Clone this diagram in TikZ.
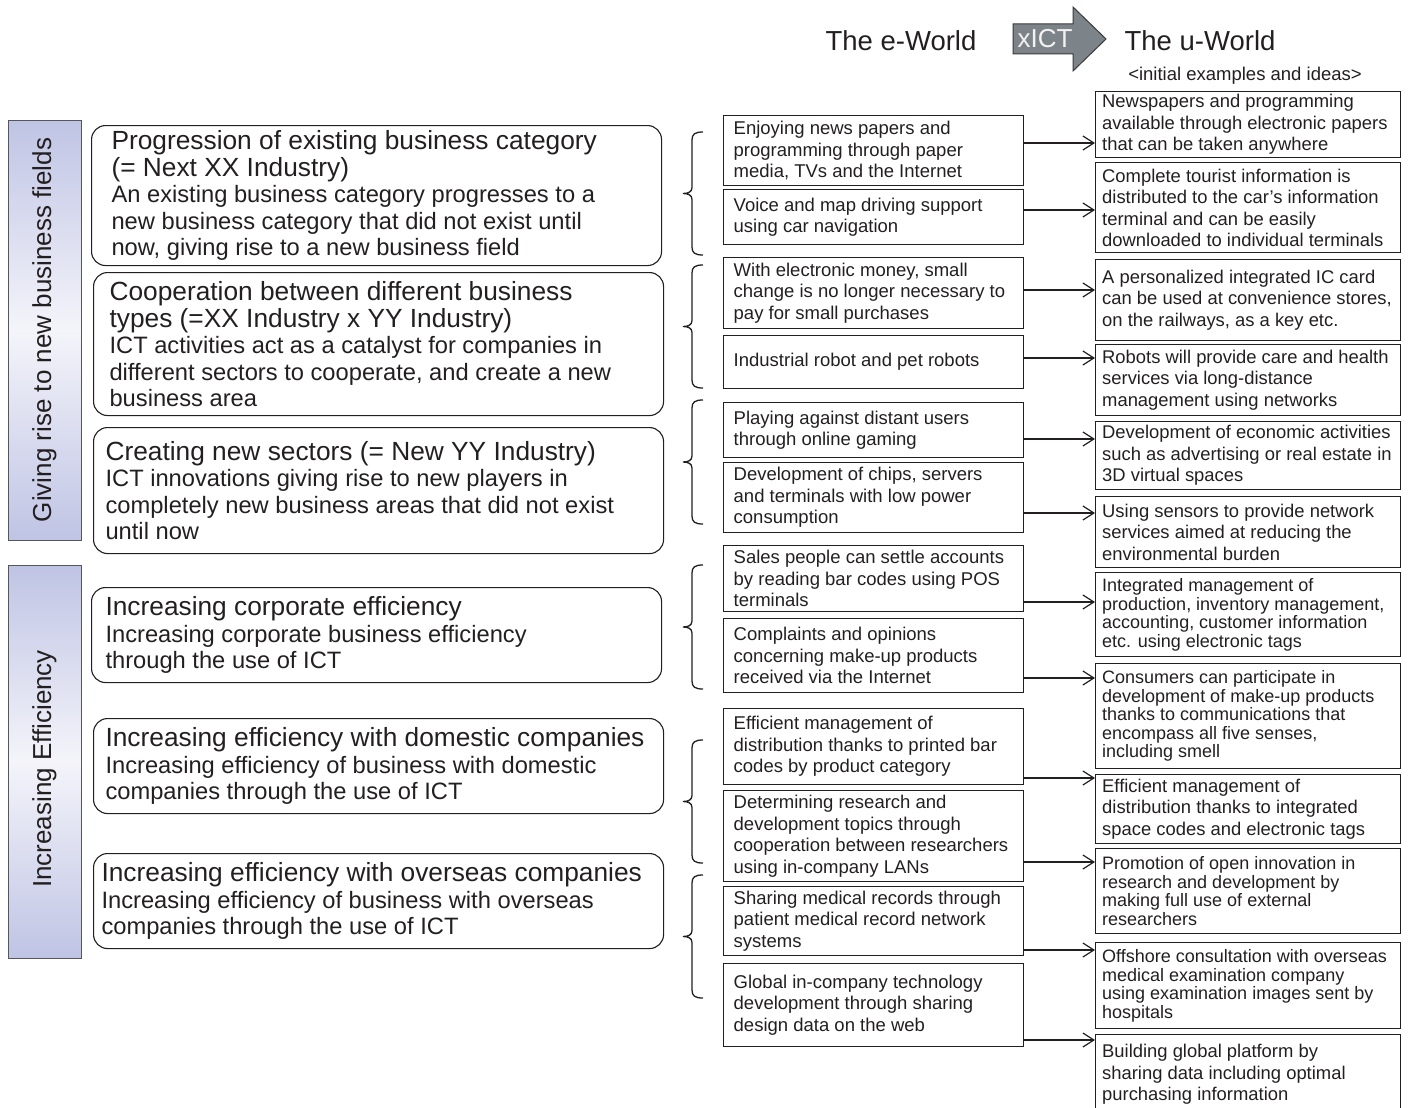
\documentclass[tikz,border=0pt]{standalone}
\usepackage{fontspec}
\usepackage{graphicx}
\setmainfont{Liberation Sans}
\usetikzlibrary{arrows.meta}

\definecolor{ink}{HTML}{231F20}
\definecolor{barlav}{HTML}{BFC4E4}
\definecolor{barlight}{HTML}{F4F4FA}
\definecolor{bargray}{HTML}{55565A}
\definecolor{arrowgray}{HTML}{7D8489}
\definecolor{arrowedge}{HTML}{3A3A3C}
\definecolor{arrowtext}{HTML}{F2F2F2}

\newcommand{\catheadfont}{\fontsize{26.3}{27}\selectfont}
\newcommand{\catbodyfont}{\fontsize{23.7}{26.5}\selectfont}

\begin{document}
\begin{tikzpicture}[x=1pt, y=-1pt,
  every node/.style={text=ink, execute at begin node={\spaceskip=0pt\xspaceskip=0pt}},
  catbar/.style={draw=bargray, line width=1pt, top color=barlav, bottom color=barlav, middle color=barlight, minimum width=73pt, font=\fontsize{26}{28}\selectfont},
  catbox/.style={draw=ink, line width=1.1pt, rounded corners=14pt, anchor=north west, minimum width=570pt, inner ysep=2pt, align=left},
  ebox/.style={draw=ink, line width=1.4pt, anchor=north west, minimum width=300pt, text width=280pt, inner xsep=10pt, inner ysep=2pt, align=left, font=\fontsize{18.5}{21.5}\selectfont},
  ubox/.style={draw=ink, line width=1.4pt, anchor=north west, minimum width=305pt, text width=292pt, inner xsep=6.5pt, inner ysep=2pt, align=left, font=\fontsize{18.4}{21.5}\selectfont},
  tight/.style={font=\fontsize{18}{18.5}\selectfont},
  ictarrow/.style={draw=arrowedge, fill=arrowgray, line width=1pt},
  feed/.style={draw=ink, line width=1.2pt, -{Straight Barb[length=11pt,width=14pt]}},
  bracepen/.style={draw=ink, line width=1.3pt}
]
\useasboundingbox (0,0) rectangle (1409,1108);

% Brace: top and bottom y, tip in the middle
\def\groupbrace#1#2{%
  \draw[bracepen] (703,#1) .. controls (695,#1) and (692,{#1+2}) .. (692,{#1+8})
    -- (692,{(#1+#2)/2-6}) .. controls (692,{(#1+#2)/2-1.5}) and (688,{(#1+#2)/2}) .. (683,{(#1+#2)/2})
    .. controls (688,{(#1+#2)/2}) and (692,{(#1+#2)/2+1.5}) .. (692,{(#1+#2)/2+6})
    -- (692,{#2-8}) .. controls (692,{#2-2}) and (695,#2) .. (703,#2);}

% Header
\node[font=\fontsize{27.5}{30}\selectfont] (eworld) at (901,41) {The e-World};
\draw[ictarrow] (1013,24) -- (1073,24) -- (1073,7) -- (1106,39) -- (1073,71) -- (1073,54) -- (1013,54) -- cycle;
\node[text=arrowtext, inner sep=0pt, font=\fontsize{26}{28}\selectfont] (xict) at (1045,39) {xICT};
\node[font=\fontsize{27.5}{30}\selectfont] (uworld) at (1200,41) {The u-World};
\node[font=\fontsize{18.5}{21}\selectfont] (ideas) at (1245,76) {<initial examples and ideas>};

% Category bars
\node[catbar, minimum height=420pt] (newfields) at (44.5,330) {\rotatebox{90}{Giving rise to new business fields}};
\node[catbar, minimum height=393pt] (efficiency) at (44.5,761.5) {\rotatebox{90}{Increasing Efficiency\hspace*{15pt}}};

% Category boxes
\node[catbox, inner xsep=20pt, text width=530pt, minimum height=140pt] (catA) at (91,125) {{\catheadfont Progression of existing business category\\(= Next XX Industry)\par}{\catbodyfont An existing business category progresses to a\\new business category that did not exist until\\now, giving rise to a new business field\par}};
\node[catbox, inner xsep=16pt, text width=538pt, minimum height=143pt] (catB) at (93,272) {{\catheadfont Cooperation between different business\\types (=XX Industry x YY Industry)\par}{\catbodyfont ICT activities act as a catalyst for companies in\\different sectors to cooperate, and create a new\\business area\par}};
\node[catbox, inner xsep=12pt, text width=546pt, minimum height=126pt] (catC) at (93,427) {{\catheadfont Creating new sectors (= New YY Industry)\par}{\catbodyfont ICT innovations giving rise to new players in\\completely new business areas that did not exist\\until now\par}};
\node[catbox, inner xsep=14pt, text width=542pt, minimum height=95pt] (catD) at (91,587) {{\catheadfont Increasing corporate efficiency\par}{\catbodyfont Increasing corporate business efficiency\\through the use of ICT\par}};
\node[catbox, inner xsep=12pt, text width=546pt, minimum height=95pt] (catE) at (93,718) {{\catheadfont Increasing efficiency with domestic companies\par}{\catbodyfont Increasing efficiency of business with domestic\\companies through the use of ICT\par}};
\node[catbox, inner xsep=8pt, text width=554pt, minimum height=95pt] (catF) at (93,853) {{\catheadfont Increasing efficiency with overseas companies\par}{\catbodyfont Increasing efficiency of business with overseas\\companies through the use of ICT\par}};

% Braces
\groupbrace{132}{255}
\groupbrace{265}{388}
\groupbrace{400}{524}
\groupbrace{565}{689}
\groupbrace{740}{863}
\groupbrace{875}{998}

% The e-World examples
\node[ebox, minimum height=70pt] (m1) at (723,115) {Enjoying news papers and\\programming through paper\\media, TVs and the Internet};
\node[ebox, minimum height=55pt] (m2) at (723,189) {Voice and map driving support\\using car navigation};
\node[ebox, minimum height=71pt] (m3) at (723,257) {With electronic money, small\\change is no longer necessary to\\pay for small purchases};
\node[ebox, minimum height=53pt] (m4) at (723,335) {Industrial robot and pet robots};
\node[ebox, minimum height=55pt] (m5) at (723,402) {Playing against distant users\\through online gaming};
\node[ebox, minimum height=70pt] (m6) at (723,462) {Development of chips, servers\\and terminals with low power\\consumption};
\node[ebox, minimum height=66pt] (m7) at (723,545) {Sales people can settle accounts\\by reading bar codes using POS\\terminals};
\node[ebox, minimum height=74pt] (m8) at (723,618) {Complaints and opinions\\concerning make-up products\\received via the Internet};
\node[ebox, minimum height=76pt] (m9) at (723,708) {Efficient management of\\distribution thanks to printed bar\\codes by product category};
\node[ebox, minimum height=91pt] (m10) at (723,790) {Determining research and\\development topics through\\cooperation between researchers\\using in-company LANs};
\node[ebox, minimum height=69pt] (m11) at (723,886) {Sharing medical records through\\patient medical record network\\systems};
\node[ebox, minimum height=83pt] (m12) at (723,963) {Global in-company technology\\development through sharing\\design data on the web};

% The u-World examples
\node[ubox, minimum height=66pt] (r1) at (1095,91) {Newspapers and programming\\available through electronic papers\\that can be taken anywhere};
\node[ubox, minimum height=90pt] (r2) at (1095,162) {Complete tourist information is\\distributed to the car's information\\terminal and can be easily\\downloaded to individual terminals};
\node[ubox, minimum height=81pt] (r3) at (1095,259) {A personalized integrated IC card\\can be used at convenience stores,\\on the railways, as a key etc.};
\node[ubox, minimum height=71pt] (r4) at (1095,344) {Robots will provide care and health\\services via long-distance\\management using networks};
\node[ubox, minimum height=68pt] (r5) at (1095,421) {Development of economic activities\\such as advertising or real estate in\\3D virtual spaces};
\node[ubox, minimum height=71pt] (r6) at (1095,496) {Using sensors to provide network\\services aimed at reducing the\\environmental burden};
\node[ubox, tight, minimum height=84pt] (r7) at (1095,572) {Integrated management of\\production, inventory management,\\accounting, customer information\\etc. using electronic tags};
\node[ubox, tight, minimum height=105pt] (r8) at (1095,663) {Consumers can participate in\\development of make-up products\\thanks to communications that\\encompass all five senses,\\including smell};
\node[ubox, minimum height=69pt] (r9) at (1095,774) {Efficient management of\\distribution thanks to integrated\\space codes and electronic tags};
\node[ubox, tight, minimum height=85pt] (r10) at (1095,848) {Promotion of open innovation in\\research and development by\\making full use of external\\researchers};
\node[ubox, tight, minimum height=86pt] (r11) at (1095,942) {Offshore consultation with overseas\\medical examination company\\using examination images sent by\\hospitals};
\node[ubox, minimum height=80pt] (r12) at (1095,1034) {Building global platform by\\sharing data including optimal\\purchasing information};

% Arrows e-World -> u-World
\draw[feed] (m1.east |- 0,143) -- (r1.west |- 0,143);
\draw[feed] (m2.east |- 0,210) -- (r2.west |- 0,210);
\draw[feed] (m3.east |- 0,290) -- (r3.west |- 0,290);
\draw[feed] (m4.east |- 0,358) -- (r4.west |- 0,358);
\draw[feed] (m5.east |- 0,439) -- (r5.west |- 0,439);
\draw[feed] (m6.east |- 0,513) -- (r6.west |- 0,513);
\draw[feed] (m7.east |- 0,602) -- (r7.west |- 0,602);
\draw[feed] (m8.east |- 0,678) -- (r8.west |- 0,678);
\draw[feed] (m9.east |- 0,778) -- (r9.west |- 0,778);
\draw[feed] (m10.east |- 0,862) -- (r10.west |- 0,862);
\draw[feed] (m11.east |- 0,950) -- (r11.west |- 0,950);
\draw[feed] (m12.east |- 0,1040) -- (r12.west |- 0,1040);
\end{tikzpicture}
\end{document}
